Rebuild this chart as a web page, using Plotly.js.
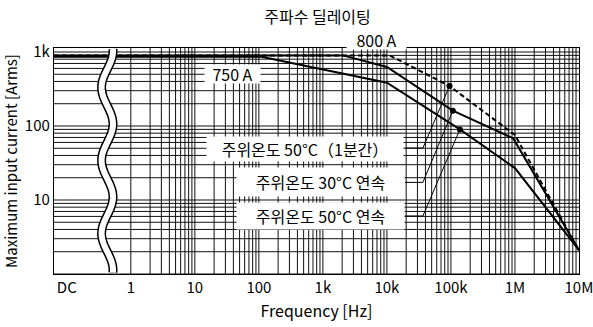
<!DOCTYPE html>
<html><head><meta charset="utf-8">
<script src="https://cdn.plot.ly/plotly-3.0.1.min.js"></script>
<style>html,body{margin:0;padding:0;background:#fff}#chart{width:593px;height:327px}</style>
</head><body><div id="chart"></div>
<script>
// ---- data ----
const freqTicks = [0.1, 1, 10, 100, 1e3, 1e4, 1e5, 1e6, 1e7];
const freqLabels = ['DC', '1', '10', '100', '1k', '10k', '100k', '1M', '10M'];
const currTicks = [10, 100, 1000];
const currLabels = ['10', '100', '1k'];

// 주위온도 30°C 연속 (solid, upper)
const freq30c = [0.063, 2050, 10000, 107000, 940000, 1e7];
const curr30c = [900, 900, 627, 161, 68, 2.1];
// 주위온도 50°C 연속 (solid, lower)
const freq50c = [0.063, 110, 10000, 138000, 1e6, 1e7];
const curr50c = [860, 860, 385, 90, 27, 2.1];
// 주위온도 50°C（1분간） (dashed)
const freq50m = [0.063, 11000, 95000, 1e6, 1e7];
const curr50m = [900, 900, 347, 75.5, 2.1];

const labelTexts = ['주위온도 50°C（1분간）', '주위온도 30°C 연속', '주위온도 50°C 연속'];
// leader line bend points (frequency, current) for each label
const leaderFreq = [19100, 36500];
const leaderCurr = [50.4, 17.3, 6.08];

const FONT = '"Noto Sans CJK KR", "Noto Sans", sans-serif';

// ---- plot geometry ----
const W = 593, H = 327, L = 54, R = 14, T = 48, B = 53;
const PW = W - L - R, PH = H - T - B;
const px2paperX = p => (p - L) / PW;
const px2paperY = p => (H - B - p) / PH;

// dots on the curves
const dotF = [freq50m[2], freq30c[3], freq50c[3]];
const dotC = [curr50m[2], curr30c[3], curr50c[3]];

const traces = [
  {x: freq30c, y: curr30c, mode: 'lines', line: {color: '#000', width: 2}, hoverinfo: 'skip'},
  {x: freq50c, y: curr50c, mode: 'lines', line: {color: '#000', width: 2}, hoverinfo: 'skip'},
  {x: freq50m, y: curr50m, mode: 'lines', line: {color: '#000', width: 2, dash: '5px,3px'}, hoverinfo: 'skip'},
];
for (let i = 0; i < 3; i++) {
  traces.push({x: [leaderFreq[0], leaderFreq[1], dotF[i]], y: [leaderCurr[i], leaderCurr[i], dotC[i]],
    mode: 'lines', line: {color: '#000', width: 1}, hoverinfo: 'skip'});
}
traces.push({x: dotF, y: dotC, mode: 'markers', marker: {color: '#000', size: 6}, hoverinfo: 'skip'});

// ---- grid (log) ----
const shapes = [];
for (let d = 0; d <= 6; d++) {
  for (let k = 1; k <= 9; k++) {
    const v = k * Math.pow(10, d);
    shapes.push({type: 'line', xref: 'x', yref: 'paper', x0: v, x1: v, y0: 0, y1: 1,
      line: {color: '#111', width: 1}, layer: 'below'});
  }
}
for (let d = 0; d <= 2; d++) {
  for (let k = 1; k <= 9; k++) {
    const v = k * Math.pow(10, d);
    shapes.push({type: 'line', xref: 'paper', yref: 'y', x0: 0, x1: 1, y0: v, y1: v,
      line: {color: '#111', width: 1}, layer: 'below'});
  }
}
shapes.push({type: 'line', xref: 'paper', yref: 'y', x0: 0, x1: 1, y0: 1000, y1: 1000,
  line: {color: '#111', width: 1}, layer: 'below'});

// ---- axis break (wavy band) ----
let wave = '';
for (let py = T + 1; py <= H - B - 1; py += 1.5) {
  const px = 107.3 + 5.7 * Math.cos(2 * Math.PI * (py - 124) / 73);
  wave += (wave ? ' L ' : 'M ') + px2paperX(px).toFixed(5) + ',' + px2paperY(py).toFixed(5);
}
shapes.push({type: 'path', xref: 'paper', yref: 'paper', path: wave, line: {color: '#000', width: 9}, layer: 'above'});
shapes.push({type: 'path', xref: 'paper', yref: 'paper', path: wave, line: {color: '#fff', width: 6}, layer: 'above'});

const annFont = {family: FONT, size: 16, color: '#000'};
function box(text, cx, cy, w, h) {
  return {text: text, xref: 'paper', yref: 'paper', x: px2paperX(cx), y: px2paperY(cy),
    xanchor: 'center', yanchor: 'middle', showarrow: false,
    bgcolor: '#fff', width: w, height: h, borderpad: 0, font: annFont};
}
const annotations = [
  box('750 A', 232.5, 74, 55, 18),
  box('800 A', 376, 40, 59, 18),
  box(labelTexts[0], 305, 149, 196, 24),
  box(labelTexts[1], 320.5, 181.5, 167, 28),
  box(labelTexts[2], 320.5, 216, 167, 26),
];

const layout = {
  width: W, height: H,
  margin: {l: L, r: R, t: T, b: B, pad: 0},
  paper_bgcolor: '#fff', plot_bgcolor: '#fff',
  showlegend: false,
  font: {family: FONT, color: '#000', size: 15},
  title: {text: '주파수 딜레이팅', x: 317.5 / W, xanchor: 'center', y: 1 - 17 / H, yanchor: 'middle',
    font: {family: FONT, size: 16, color: '#000'}},
  xaxis: {type: 'log', range: [-1.2, 7.0005], showgrid: false, zeroline: false,
    showline: true, mirror: true, linecolor: '#000', linewidth: 1.2,
    tickmode: 'array', tickvals: freqTicks, ticktext: freqLabels, ticks: '',
    ticklabeloverflow: 'allow',
    tickfont: {family: FONT, size: 15, color: '#000'},
    title: {text: 'Frequency [Hz]', font: {family: FONT, size: 16, color: '#000'}, standoff: 9},
    automargin: false, fixedrange: true},
  yaxis: {type: 'log', range: [0, 3.054], showgrid: false, zeroline: false,
    showline: true, mirror: true, linecolor: '#000', linewidth: 1.2,
    tickmode: 'array', tickvals: currTicks, ticktext: currLabels, ticks: '',
    tickfont: {family: FONT, size: 15, color: '#000'},
    title: {text: 'Maximum input current [Arms]', font: {family: FONT, size: 15, color: '#000'}, standoff: 4},
    automargin: false, fixedrange: true},
  shapes: shapes,
  annotations: annotations,
};

Plotly.newPlot('chart', traces, layout, {displayModeBar: false, staticPlot: true});
</script>
</body></html>
